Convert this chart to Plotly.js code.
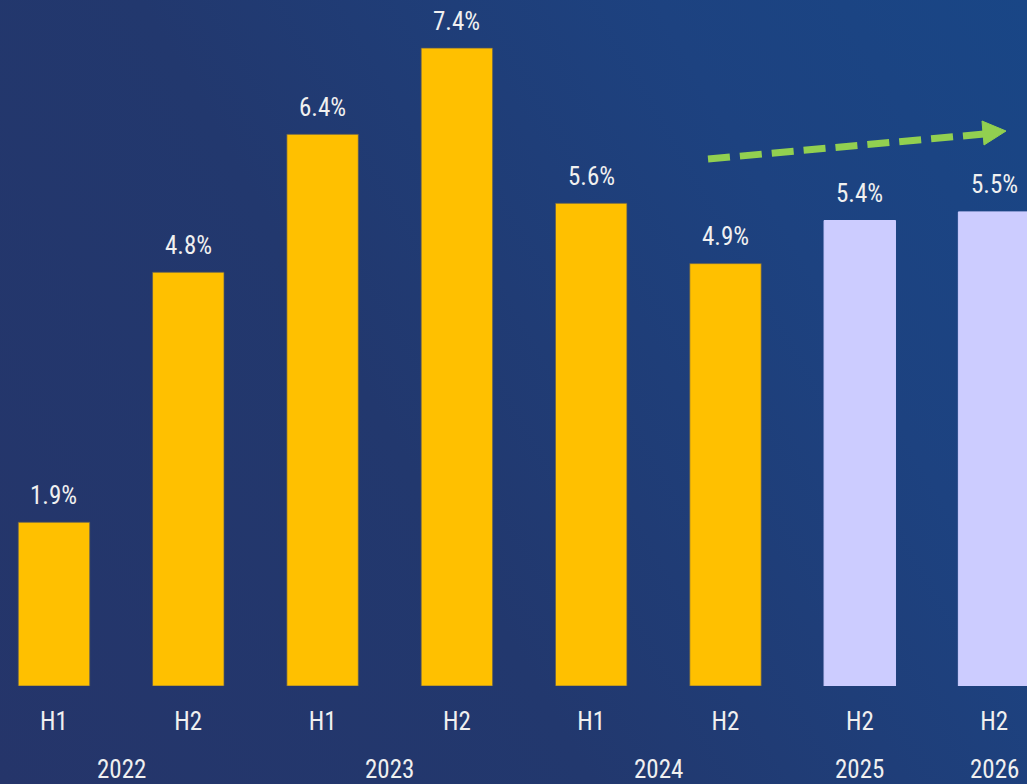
<!DOCTYPE html>
<html>
<head>
<meta charset="utf-8">
<script src="https://cdn.plot.ly/plotly-3.0.1.min.js"></script>
<style>
  html, body { margin: 0; padding: 0; width: 1027px; height: 784px; overflow: hidden; }
  #chart { width: 1027px; height: 784px; background: linear-gradient(60deg, #25356a 0%, #22386e 40%, #1d4280 75%, #194686 100%); }
</style>
</head>
<body>
<div id="chart"></div>
<script>
// ---- data ----
const periods = ["H1", "H2", "H1", "H2", "H1", "H2", "H2", "H2"];
const years = ["2022", "2022", "2023", "2023", "2024", "2024", "2025", "2026"];
const values = [1.9, 4.8, 6.4, 7.4, 5.6, 4.9, 5.4, 5.5];
const isForecast = [false, false, false, false, false, false, true, true];

// ---- styles ----
const ACTUAL_COLOR = "#FFC000";
const FORECAST_COLOR = "#CCCCFF";
const TEXT_COLOR = "#F0F0F0";
const FONT = "'Liberation Sans Narrow', 'Roboto Condensed', 'DejaVu Sans Condensed', sans-serif";

const xs = values.map((_, i) => i);

const bar = {
  type: "bar",
  x: xs,
  y: values,
  width: 0.532,
  marker: {
    color: isForecast.map(f => f ? FORECAST_COLOR : ACTUAL_COLOR),
    line: { color: isForecast.map(f => f ? FORECAST_COLOR : "rgba(90,90,90,0.7)"), width: 1 }
  },
  hoverinfo: "skip"
};

const annotations = [];
// value labels
values.forEach((v, i) => {
  annotations.push({
    x: i, y: v, xref: "x", yref: "y",
    text: v.toFixed(1) + "%",
    showarrow: false, yanchor: "middle", yshift: 27,
    font: { family: FONT, size: 25, color: TEXT_COLOR }
  });
});
// year group labels, centered under each group
const groups = [];
years.forEach((yr, i) => {
  const g = groups.find(g => g.year === yr);
  if (g) g.idx.push(i); else groups.push({ year: yr, idx: [i] });
});
groups.forEach(g => {
  const cx = g.idx.reduce((a, b) => a + b, 0) / g.idx.length;
  annotations.push({
    x: cx, y: 0, xref: "x", yref: "paper",
    text: g.year, showarrow: false, yanchor: "middle", yshift: -83,
    font: { family: FONT, size: 25, color: TEXT_COLOR }
  });
});

// pixel -> paper helpers for the decorative trend arrow
const W = 1027, PLOT_H = 686;
const px = p => p / W;
const py = p => (PLOT_H - p) / PLOT_H;

const shapes = [
  {
    type: "line", xref: "paper", yref: "paper",
    x0: px(708), y0: py(159), x1: px(984), y1: py(134),
    line: { color: "#92D050", width: 7, dash: "22px,10px" }
  },
  {
    type: "path", xref: "paper", yref: "paper",
    path: `M ${px(982)} ${py(121)} L ${px(1006)} ${py(131)} L ${px(984)} ${py(145)} Z`,
    fillcolor: "#92D050", line: { color: "#92D050", width: 1 }
  }
];

const layout = {
  width: 1027, height: 784,
  margin: { l: 0, r: 0, t: 0, b: 98, pad: 0 },
  paper_bgcolor: "rgba(0,0,0,0)",
  plot_bgcolor: "rgba(0,0,0,0)",
  showlegend: false,
  xaxis: {
    range: [-0.402, 7.245],
    tickvals: xs, ticktext: periods,
    ticks: "", showgrid: false, zeroline: false, showline: false,
    tickfont: { family: FONT, size: 25, color: TEXT_COLOR },
    ticklabelstandoff: 18,
    fixedrange: true
  },
  yaxis: {
    range: [0, 7.958],
    visible: false, showgrid: false, zeroline: false,
    fixedrange: true
  },
  annotations: annotations,
  shapes: shapes
};

Plotly.newPlot("chart", [bar], layout, { displayModeBar: false, staticPlot: true });
</script>
</body>
</html>
